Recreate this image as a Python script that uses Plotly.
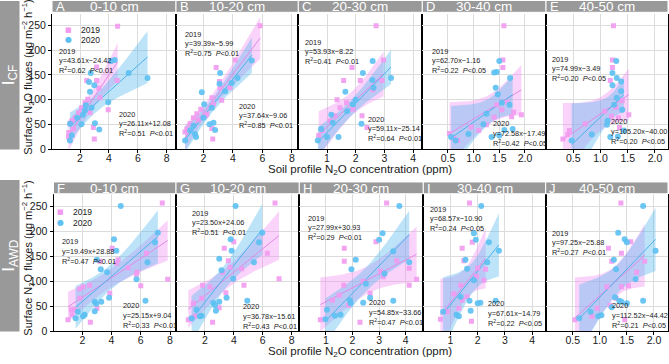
import numpy as np
import plotly.graph_objects as go

# ---------------- data ----------------
panel_letters = ["A", "B", "C", "D", "E", "F", "G", "H", "I", "J"]
depth_labels = ["0-10 cm", "10-20 cm", "20-30 cm", "30-40 cm", "40-50 cm"] * 2
row_labels = ["I<sub>CF</sub>", "I<sub>AWD</sub>"]
y_ticks = [0, 50, 100, 150, 200, 250]
x_tick_sets = [[2, 4, 6, 8], [2, 4, 6, 8], [1, 2, 3, 4], [0.5, 1.0, 1.5, 2.0], [0.5, 1.0, 1.5, 2.0],
               [2, 4, 6, 8], [2, 4, 6, 8], [1, 2, 3, 4], [1, 2, 3, 4], [0.5, 1.0, 1.5, 2.0]]

A_x2019 = [4.60, 3.15, 2.46, 3.15, 4.57, 3.30, 2.53, 3.38, 3.95, 2.92, 2.99, 1.22, 1.31, 1.20, 1.66, 1.90, 2.10, 2.34, 2.70, 1.54, 4.07, 1.45]
A_y2019 = [248, 166, 139, 139, 139, 123, 101, 104, 80, 44, 21, 34, 52, 25, 64, 74, 84, 94, 74, 41, 177, 58]
A_x2020 = [4.14, 4.40, 2.74, 2.62, 2.99, 2.69, 5.36, 6.67, 3.95, 3.03, 3.33, 1.31, 2.10, 2.40, 1.43, 1.30, 1.80, 2.34, 2.80, 2.20]
A_y2020 = [178, 180, 154, 136, 129, 116, 154, 144, 95, 53, 40, 52, 51, 89, 28, 18, 64, 79, 84, 70]

B_x2019 = [5.85, 4.15, 2.86, 3.09, 3.24, 2.57, 2.63, 2.57, 1.55, 1.82, 1.10, 0.87, 0.75, 2.23, 2.12, 3.80, 3.13, 1.32, 1.66, 2.68]
B_y2019 = [249, 180, 165, 137, 99, 104, 21, 42, 72, 81, 52, 41, 35, 71, 68, 124, 124, 64, 60, 91]
B_x2020 = [5.28, 4.31, 3.13, 3.09, 1.89, 2.05, 0.76, 1.43, 1.50, 2.41, 2.79, 2.68, 2.00, 1.32, 1.10, 2.57, 3.47, 3.92]
B_y2020 = [179, 144, 154, 132, 115, 91, 18, 31, 25, 51, 39, 54, 64, 48, 38, 84, 117, 134]

C_x2019 = [2.71, 1.87, 1.58, 2.16, 1.90, 2.22, 2.39, 0.71, 0.83, 1.10, 1.27, 1.45, 1.68, 2.97, 2.92, 2.60, 1.35]
C_y2019 = [249, 165, 139, 139, 81, 68, 44, 28, 38, 58, 68, 84, 94, 180, 139, 120, 100]
C_x2020 = [2.59, 2.25, 1.64, 0.68, 1.00, 1.40, 2.20, 0.80, 1.20, 1.70, 1.90, 3.23, 2.62, 2.58, 2.00, 1.15]
C_y2020 = [178, 154, 116, 18, 25, 25, 52, 41, 54, 77, 91, 144, 124, 140, 100, 70]

D_x2019 = [1.59, 1.57, 1.57, 0.53, 0.69, 1.74, 1.40, 1.55, 1.45, 1.93, 1.78, 1.25, 1.10, 0.95, 0.62, 1.65]
D_y2019 = [249, 180, 165, 32, 18, 66, 65, 80, 90, 70, 75, 50, 38, 45, 22, 95]
D_x2020 = [1.50, 1.45, 1.40, 1.43, 1.47, 1.71, 0.56, 0.90, 1.19, 1.35, 1.50, 1.60, 1.76, 1.55, 1.25, 1.70, 0.65]
D_y2020 = [178, 156, 155, 124, 111, 144, 25, 31, 51, 25, 28, 39, 41, 94, 72, 90, 18]

E_x2019 = [1.24, 1.22, 1.22, 1.18, 0.31, 0.43, 1.52, 1.33, 1.20, 1.08, 0.72, 1.35, 1.40, 1.28, 0.40]
E_y2019 = [249, 180, 165, 139, 21, 38, 70, 64, 67, 77, 52, 44, 98, 85, 30]
E_x2020 = [1.29, 1.22, 1.30, 1.22, 1.38, 0.47, 0.84, 1.12, 1.18, 1.32, 1.43, 1.38, 1.30, 1.13, 1.25, 1.40]
E_y2020 = [178, 154, 144, 129, 137, 18, 30, 50, 25, 26, 38, 117, 104, 58, 90, 80]

F_x2019 = [7.47, 7.84, 6.00, 6.39, 5.75, 5.13, 4.45, 4.04, 3.19, 3.88, 3.00, 2.55, 1.02, 1.31, 1.25, 1.82, 2.05, 2.50, 1.82, 1.47, 4.35, 5.70]
F_y2019 = [257, 104, 91, 156, 118, 127, 143, 166, 140, 76, 46, 18, 23, 33, 43, 66, 89, 92, 85, 43, 136, 114]
F_x2020 = [4.63, 4.17, 4.33, 7.17, 6.97, 6.46, 5.71, 6.32, 3.00, 3.26, 2.85, 2.96, 2.85, 3.30, 3.83, 2.16, 2.05, 1.54, 1.70, 3.70]
F_y2020 = [251, 184, 161, 197, 178, 138, 104, 61, 143, 124, 59, 55, 40, 59, 67, 33, 30, 26, 39, 118]

G_x2019 = [6.85, 7.13, 6.32, 4.00, 3.34, 4.70, 4.54, 3.22, 3.45, 2.99, 2.53, 0.85, 1.31, 1.84, 1.77, 2.35, 3.62, 3.75, 1.20]
G_y2019 = [257, 105, 156, 179, 166, 92, 125, 118, 77, 47, 18, 23, 30, 92, 66, 89, 141, 128, 56]
G_x2020 = [4.12, 5.97, 5.74, 3.78, 3.85, 2.99, 3.15, 3.96, 5.39, 4.93, 3.50, 2.99, 2.58, 2.70, 2.76, 1.77, 1.65, 1.42, 1.08]
G_y2020 = [251, 197, 178, 184, 161, 145, 122, 105, 138, 61, 67, 59, 57, 52, 41, 31, 30, 43, 26]

H_x2019 = [3.28, 2.88, 1.69, 1.69, 2.28, 0.79, 2.66, 1.67, 1.50, 1.25, 1.85, 3.16, 4.13, 4.41, 4.13, 3.66, 3.05, 2.40]
H_y2019 = [257, 179, 166, 140, 18, 23, 76, 92, 72, 62, 52, 109, 126, 104, 92, 141, 120, 100]
H_x2020 = [3.76, 3.13, 3.00, 2.12, 1.96, 3.53, 4.13, 3.53, 2.66, 2.40, 1.93, 1.04, 1.34, 1.55, 0.98, 1.90, 2.50, 3.20]
H_y2020 = [251, 196, 183, 143, 124, 160, 138, 61, 67, 57, 56, 43, 31, 33, 24, 62, 95, 115]

I_x2019 = [1.70, 1.43, 1.49, 1.80, 1.77, 0.63, 0.88, 1.31, 1.61, 2.00, 2.23, 1.37, 1.43, 1.12, 2.29, 1.95]
I_y2019 = [257, 166, 141, 178, 20, 24, 39, 46, 69, 126, 102, 92, 62, 75, 124, 110]
I_x2020 = [2.13, 1.86, 1.93, 2.41, 2.78, 1.55, 1.61, 2.35, 1.70, 1.37, 2.00, 2.10, 1.74, 1.22, 1.31, 0.73, 2.66, 1.86]
I_y2020 = [251, 196, 183, 178, 161, 143, 125, 138, 61, 69, 56, 57, 41, 33, 30, 39, 61, 102]

J_x2019 = [1.39, 1.57, 1.16, 1.40, 1.22, 1.83, 0.54, 0.95, 1.13, 1.40, 1.53, 1.46, 1.19, 1.30, 1.68, 0.85]
J_y2019 = [257, 179, 166, 156, 140, 140, 23, 46, 89, 89, 91, 23, 52, 66, 118, 30]
J_x2020 = [1.80, 1.34, 1.46, 1.50, 2.03, 1.26, 1.30, 1.66, 1.80, 1.28, 1.36, 1.40, 1.22, 1.03, 0.97, 0.83, 0.62, 1.50]
J_y2020 = [251, 197, 184, 178, 161, 143, 124, 104, 61, 68, 61, 59, 48, 32, 30, 39, 26, 56]

# fitted equations (slope, intercept), R2 and P text as printed
slope2019 = [43.61, 39.39, 53.93, 62.70, 74.99, 19.49, 23.50, 27.99, 68.57, 97.25]
inter2019 = [-24.42, -5.99, -8.22, -1.16, -3.49, 28.88, 24.06, 30.93, -10.90, -25.88]
r2_2019 = ["0.62", "0.75", "0.41", "0.22", "0.20", "0.47", "0.51", "0.29", "0.24", "0.27"]
p_2019 = ["0.01", "0.01", "0.01", "0.05", "0.05", "0.01", "0.01", "0.01", "0.05", "0.01"]
slope2020 = [26.11, 37.64, 59.11, 72.58, 105.20, 25.15, 36.78, 54.85, 67.61, 112.52]
inter2020 = [12.08, -9.06, -25.14, -17.49, -40.00, 9.04, -15.61, -33.66, -14.79, -44.42]
r2_2020 = ["0.51", "0.85", "0.64", "0.42", "0.20", "0.33", "0.43", "0.47", "0.22", "0.21"]
p_2020 = ["0.01", "0.01", "0.01", "0.05", "0.05", "0.01", "0.01", "0.01", "0.05", "0.05"]

data2019 = [(A_x2019, A_y2019), (B_x2019, B_y2019), (C_x2019, C_y2019), (D_x2019, D_y2019), (E_x2019, E_y2019),
            (F_x2019, F_y2019), (G_x2019, G_y2019), (H_x2019, H_y2019), (I_x2019, I_y2019), (J_x2019, J_y2019)]
data2020 = [(A_x2020, A_y2020), (B_x2020, B_y2020), (C_x2020, C_y2020), (D_x2020, D_y2020), (E_x2020, E_y2020),
            (F_x2020, F_y2020), (G_x2020, G_y2020), (H_x2020, H_y2020), (I_x2020, I_y2020), (J_x2020, J_y2020)]

# ---------------- layout constants (pixels) ----------------
W, H = 669, 364
FONT = "Liberation Sans, Arial, sans-serif"
panel_px = [(52, 176), (176, 298.3), (298.3, 422.3), (422.3, 546), (546, 668),
            (53.5, 176), (176, 299.3), (299.3, 423.3), (423.3, 545.7), (545.7, 668)]
row_py = [(14, 152), (197.7, 336.7)]
strip_py = [(0.5, 12.5), (185, 197)]
x_ranges = [[0.06, 8.64], [0.14, 8.43], [0, 4.32], [0, 2.41], [0, 2.24],
            [0.03, 8.41], [0, 8.53], [0, 4.66], [0, 4.5], [0, 2.26]]
y_ranges = [[0, 273], [0, 274]]
ann19 = [(57, 52), (183, 35), (303, 43), (430, 52), (550, 60),
         (60, 246), (190, 217), (306, 222), (428, 213), (550, 237)]
ann20 = [(117, 116), (237, 108), (366, 121), (491, 126), (609, 124),
         (121, 311), (241, 312), (367, 308), (486, 309), (610, 311)]
LINE_GAP = 9.6
EQ_SIZE = 7.3

PINK = "#F29AEF"
BLUE = "#5CC0F2"
PINK_BAND = "rgba(240,140,238,0.38)"
BLUE_BAND = "rgba(90,185,240,0.40)"
PINK_LINE = "#E28AE6"
BLUE_LINE = "#4DB2EC"


def px2x(p):
    return p / W


def py2y(p):
    return 1 - p / H


def band(xs, ys, a, b):
    x = np.asarray(xs, float)
    y = np.asarray(ys, float)
    n = len(x)
    xm = x.mean()
    sxx = ((x - xm) ** 2).sum()
    res = y - (a * x + b)
    s = np.sqrt((res ** 2).sum() / (n - 2))
    g = np.linspace(x.min(), x.max(), 60)
    fit = a * g + b
    half = 2.1 * s * np.sqrt(1.0 / n + (g - xm) ** 2 / sxx)
    return g, fit, fit - half, fit + half


def eq_text(a, b):
    sign = "+" if b >= 0 else "\u2212"
    return f"y={a:.2f}x{sign}{abs(b):.2f}"


fig = go.Figure()
annotations = []
shapes = []

for i in range(10):
    row = 0 if i < 5 else 1
    xa = "x" if i == 0 else f"x{i+1}"
    ya = "y" if i == 0 else f"y{i+1}"
    xkey = "xaxis" if i == 0 else f"xaxis{i+1}"
    ykey = "yaxis" if i == 0 else f"yaxis{i+1}"

    for (xs, ys), a, b, bandc in [(data2019[i], slope2019[i], inter2019[i], PINK_BAND),
                                   (data2020[i], slope2020[i], inter2020[i], BLUE_BAND)]:
        g, fit, lo, hi = band(xs, ys, a, b)
        fig.add_trace(go.Scatter(x=np.concatenate([g, g[::-1]]), y=np.concatenate([hi, lo[::-1]]),
                                 fill="toself", fillcolor=bandc, line=dict(width=0), mode="lines",
                                 hoverinfo="skip", showlegend=False, xaxis=xa, yaxis=ya))
    for (xs, ys), a, b, linec in [(data2019[i], slope2019[i], inter2019[i], PINK_LINE),
                                   (data2020[i], slope2020[i], inter2020[i], BLUE_LINE)]:
        g, fit, lo, hi = band(xs, ys, a, b)
        fig.add_trace(go.Scatter(x=g, y=fit, mode="lines", line=dict(color=linec, width=1),
                                 showlegend=False, xaxis=xa, yaxis=ya))
    fig.add_trace(go.Scatter(x=data2019[i][0], y=data2019[i][1], mode="markers", name="2019",
                             marker=dict(symbol="square", size=5, color=PINK, opacity=0.9),
                             showlegend=False, xaxis=xa, yaxis=ya))
    fig.add_trace(go.Scatter(x=data2020[i][0], y=data2020[i][1], mode="markers", name="2020",
                             marker=dict(symbol="circle", size=6, color=BLUE, opacity=0.9),
                             showlegend=False, xaxis=xa, yaxis=ya))

    l, r = panel_px[i]
    t, btm = row_py[row]
    ticks = x_tick_sets[i]
    ticktext = [f"{v:.1f}" if isinstance(v, float) else str(v) for v in ticks]
    fig.layout[xkey] = dict(domain=[px2x(l), px2x(r)], range=x_ranges[i], anchor=ya,
                            tickvals=ticks, ticktext=ticktext, showgrid=True, gridcolor="#DCDCDC",
                            gridwidth=1, zeroline=False, showline=True, linecolor="black", linewidth=1,
                            mirror=False, ticks="outside", ticklen=3, tickcolor="black",
                            ticklabelstandoff=-4,
                            tickfont=dict(family=FONT, size=10.5, color="#1a1a1a"))
    fig.layout[ykey] = dict(domain=[py2y(btm), py2y(t)], range=y_ranges[row], anchor=xa,
                            tickvals=y_ticks, showticklabels=(i % 5 == 0), showgrid=True,
                            gridcolor="#DCDCDC", gridwidth=1, zeroline=False, showline=True,
                            linecolor="black", linewidth=1, mirror=True,
                            ticks="outside" if i % 5 == 0 else "", ticklen=3, tickcolor="black",
                            tickfont=dict(family=FONT, size=10.5, color="#1a1a1a"))

    # strip
    s0, s1 = strip_py[row]
    shapes.append(dict(type="rect", xref="paper", yref="paper", x0=px2x(l), x1=px2x(r),
                       y0=py2y(s1), y1=py2y(s0), fillcolor="#999999", line=dict(color="white", width=1),
                       layer="above"))
    annotations.append(dict(text=panel_letters[i], x=px2x(l + 1.5), y=py2y((s0 + s1) / 2 + 0.5), xref="paper",
                            yref="paper", xanchor="left", yanchor="middle", showarrow=False,
                            font=dict(family=FONT, size=13, color="white")))
    annotations.append(dict(text=depth_labels[i], x=px2x((l + r) / 2), y=py2y((s0 + s1) / 2 + 0.5), xref="paper",
                            yref="paper", xanchor="center", yanchor="middle", showarrow=False,
                            font=dict(family=FONT, size=13.5, color="white")))

    # equations
    for (ax, ay), lines in [(ann19[i], ["2019", eq_text(slope2019[i], inter2019[i]),
                                        f"R<sup>2</sup>={r2_2019[i]}  <i>P</i><{p_2019[i]}"]),
                            (ann20[i], ["2020", eq_text(slope2020[i], inter2020[i]),
                                        f"R<sup>2</sup>={r2_2020[i]}  <i>P</i><{p_2020[i]}"])]:
        for k, txt in enumerate(lines):
            annotations.append(dict(text=txt, x=px2x(ax), y=py2y(ay + k * LINE_GAP), xref="paper",
                                    yref="paper", xanchor="left", yanchor="middle", showarrow=False,
                                    font=dict(family=FONT, size=EQ_SIZE, color="#1a1a1a")))

# manual legends in A and F
for (lx, ly) in [(68, 30), (60, 216)]:
    annotations.append(dict(text="\u25A0", x=px2x(lx), y=py2y(ly), xref="paper", yref="paper",
                            xanchor="center", yanchor="middle", showarrow=False,
                            font=dict(family="DejaVu Sans", size=7, color=PINK)))
    annotations.append(dict(text="\u25CF", x=px2x(lx), y=py2y(ly + 10.5), xref="paper", yref="paper",
                            xanchor="center", yanchor="middle", showarrow=False,
                            font=dict(family="DejaVu Sans", size=8, color=BLUE)))
    annotations.append(dict(text="2019", x=px2x(lx + 11), y=py2y(ly), xref="paper", yref="paper",
                            xanchor="left", yanchor="middle", showarrow=False,
                            font=dict(family=FONT, size=8.5, color="#1a1a1a")))
    annotations.append(dict(text="2020", x=px2x(lx + 11), y=py2y(ly + 10.5), xref="paper", yref="paper",
                            xanchor="left", yanchor="middle", showarrow=False,
                            font=dict(family=FONT, size=8.5, color="#1a1a1a")))

# row label boxes and axis titles
box_py = [(1, 152), (183, 337)]
title_cy = [79, 263]
for row in range(2):
    b0, b1 = box_py[row]
    shapes.append(dict(type="rect", xref="paper", yref="paper", x0=0, x1=px2x(19.5),
                       y0=py2y(b1), y1=py2y(b0), fillcolor="#999999", line=dict(width=0)))
    annotations.append(dict(text=row_labels[row], x=px2x(10), y=py2y((b0 + b1) / 2), xref="paper",
                            yref="paper", xanchor="center", yanchor="middle", textangle=-90,
                            showarrow=False, font=dict(family=FONT, size=17, color="white")))
    t, btm = row_py[row]
    annotations.append(dict(text="Surface N<sub>2</sub>O fluxes (\u03bcg m<sup>\u22122</sup> h<sup>\u22121</sup>)",
                            x=px2x(28), y=py2y(title_cy[row]), xref="paper", yref="paper",
                            xanchor="center", yanchor="middle", textangle=-90, showarrow=False,
                            font=dict(family=FONT, size=11, color="#1a1a1a")))
    annotations.append(dict(text="Soil profile N<sub>2</sub>O concentration (ppm)",
                            x=px2x(360), y=py2y(btm + 21), xref="paper", yref="paper",
                            xanchor="center", yanchor="middle", showarrow=False,
                            font=dict(family=FONT, size=11.5, color="#1a1a1a")))

fig.update_layout(width=W, height=H, margin=dict(l=0, r=0, t=0, b=0), paper_bgcolor="white",
                  plot_bgcolor="white", showlegend=False, annotations=annotations, shapes=shapes,
                  font=dict(family=FONT))

fig.write_html("out.html")
